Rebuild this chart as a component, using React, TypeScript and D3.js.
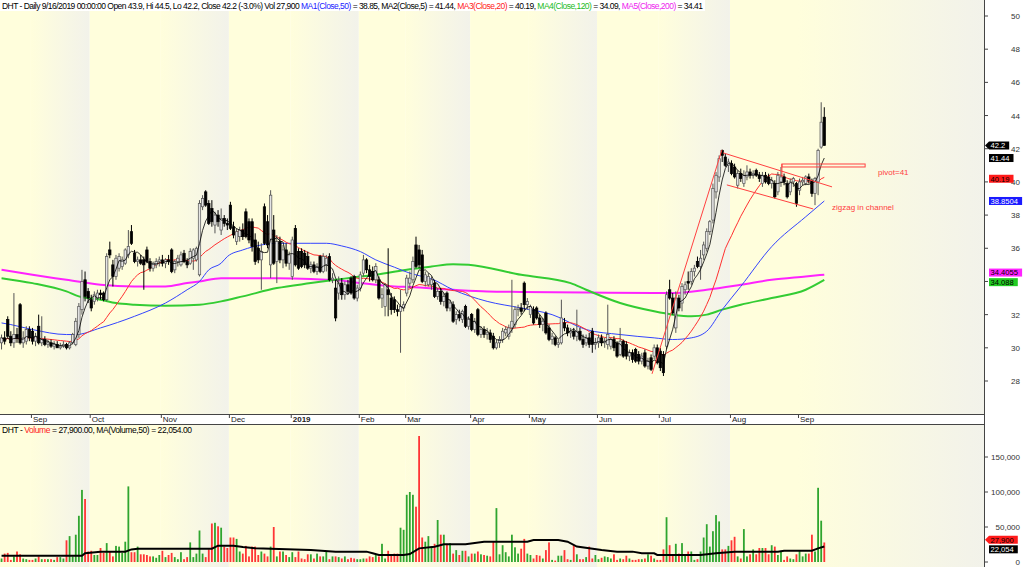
import React from 'react';
import * as d3 from 'd3';

const W = 1024;
const H = 567;
const PLOT_R = 984;
const STEP = 3.093;
const FONT = 'Liberation Sans, Arial, sans-serif';

// daily bars [open, high, low, close], one list per month
const aug18 = [[30.3,30.8,29.9,30.6],[30.6,31.0,30.2,30.4],[31.7,31.9,30.6,30.7],[30.7,31.0,30.1,30.3],[30.3,33.3,30.0,30.8],[30.8,31.2,30.3,30.6],[32.6,32.7,30.2,30.3],[30.3,31.0,30.0,30.6],[30.4,31.3,30.2,31.1],[31.1,31.3,30.4,30.6]];
const sep18 = [[31.0,31.2,30.2,30.4],[30.4,30.9,30.1,30.7],[31.3,32.0,30.2,30.3],[30.3,31.9,30.1,30.5],[30.5,30.7,30.1,30.2],[30.2,30.5,30.0,30.3],[30.3,30.5,30.0,30.1],[30.1,30.4,29.9,30.2],[30.2,30.4,30.0,30.0],[30.0,30.3,29.9,30.1],[30.1,30.4,30.0,30.2],[30.2,30.3,29.9,30.0],[30.0,30.4,29.9,30.3],[30.3,30.9,30.2,30.8],[30.2,31.8,30.1,31.6],[30.8,32.7,30.6,32.5],[32.3,34.7,32.0,34.0],[34.1,34.6,32.8,33.1],[33.4,33.6,32.7,33.0]];
const oct18 = [[32.9,33.2,32.2,32.4],[32.8,33.4,32.6,33.2],[33.0,33.5,32.8,33.3],[33.3,33.5,32.9,33.2],[33.3,33.4,32.8,32.9],[32.9,35.7,32.8,35.5],[35.9,36.4,35.4,35.6],[35.0,35.3,33.7,34.3],[34.3,35.6,34.1,35.4],[34.8,35.7,34.6,35.5],[34.9,35.5,34.7,35.3],[35.1,36.0,35.0,35.9],[35.6,37.1,35.4,36.1],[37.0,37.4,36.2,36.3],[35.7,35.9,35.1,35.2],[35.2,35.5,34.9,35.3],[35.3,35.6,35.0,35.1],[35.3,35.5,33.5,35.0],[35.9,36.1,35.1,35.2],[35.2,35.4,34.6,34.8],[34.8,35.2,34.6,35.1],[35.0,35.4,34.8,35.2],[35.2,35.5,34.9,35.3]];
const nov18 = [[35.3,35.6,34.9,35.1],[35.1,35.4,34.8,35.3],[35.3,35.6,35.0,35.2],[35.9,36.0,34.5,34.6],[34.7,35.3,34.5,35.2],[35.2,35.6,34.9,35.4],[35.0,35.8,34.9,35.6],[35.7,35.9,35.1,35.2],[35.2,35.4,34.8,35.0],[35.1,36.0,35.0,35.8],[35.4,36.0,34.7,35.9],[35.3,36.1,35.2,36.0],[34.4,38.9,34.3,38.7],[38.5,39.2,38.3,39.0],[39.4,39.5,38.5,38.6],[38.7,38.9,37.4,37.5],[38.4,38.9,37.3,37.6],[37.4,38.2,36.9,38.0],[38.0,38.3,37.3,37.6],[37.1,38.4,36.8,37.8],[37.8,38.0,37.3,37.5],[37.5,37.8,37.1,37.4]];
const dec18 = [[38.6,38.8,37.1,37.2],[37.3,37.6,36.6,36.8],[36.4,37.2,36.2,37.0],[36.7,37.3,36.4,37.1],[37.1,37.5,36.5,36.7],[38.2,38.4,36.6,36.7],[37.6,37.8,36.3,36.5],[37.6,37.8,35.8,36.1],[36.5,36.9,35.0,35.2],[36.0,36.4,35.1,35.3],[35.3,36.3,33.5,35.8],[38.5,38.7,36.2,36.3],[37.6,38.0,36.0,36.2],[35.0,39.5,34.2,39.2],[37.1,38.0,35.0,35.1],[35.2,36.8,33.9,36.4],[36.4,36.7,35.1,35.3],[35.3,36.2,34.8,35.9],[35.9,36.3,34.9,35.1],[35.1,35.8,34.7,35.6]];
const jan19 = [[34.3,36.7,34.1,36.5],[37.2,37.4,34.9,35.0],[35.8,36.0,34.7,34.8],[35.8,36.0,34.8,34.9],[35.7,35.9,34.8,35.0],[35.5,35.8,34.7,34.8],[34.8,35.2,34.5,35.0],[35.0,35.2,34.5,34.6],[34.6,35.1,34.4,34.9],[35.5,35.6,34.5,34.6],[34.6,35.7,34.5,35.5],[35.0,35.6,34.6,35.4],[35.5,35.7,34.0,34.1],[34.1,34.5,33.9,34.2],[33.6,34.1,31.6,31.8],[33.3,34.3,32.9,33.9],[33.9,34.2,32.9,33.2],[33.2,34.0,32.9,33.8],[33.8,34.1,33.2,33.4],[34.2,34.3,33.2,33.3],[34.3,34.4,32.9,33.0],[33.0,33.8,32.8,33.6]];
const feb19 = [[33.6,34.6,33.4,34.4],[34.5,35.6,34.3,35.3],[35.3,35.4,34.5,34.7],[34.7,35.0,34.0,34.3],[34.6,34.9,34.0,34.1],[34.1,35.1,33.9,34.9],[34.1,34.3,32.9,33.0],[33.0,33.6,32.4,33.2],[32.5,33.9,31.9,33.8],[33.5,36.0,31.9,33.2],[33.0,33.3,32.0,32.3],[32.9,33.1,32.1,32.3],[32.3,32.6,31.9,32.2],[32.2,33.5,29.7,32.5],[32.4,32.8,32.2,32.6]];
const mar19 = [[33.3,34.4,33.1,34.2],[33.9,34.6,33.6,34.2],[34.1,35.5,33.9,35.2],[36.2,36.7,34.8,34.9],[35.9,36.2,34.8,35.0],[35.6,35.9,33.9,34.0],[34.0,34.6,33.7,34.4],[33.8,34.5,33.7,34.3],[33.8,34.3,33.5,34.1],[33.9,34.1,33.0,33.1],[33.1,33.6,32.9,33.4],[33.4,33.6,32.6,32.8],[32.8,33.3,32.5,33.1],[33.3,33.4,32.2,32.4],[32.4,32.9,32.2,32.7],[32.6,32.8,31.5,31.6],[31.7,32.2,31.4,32.0],[32.0,32.3,31.6,31.8],[31.7,32.3,31.5,32.2],[32.5,32.6,31.2,31.3],[31.3,31.9,31.1,31.7]];
const apr19 = [[32.0,32.1,31.0,31.1],[31.1,31.8,30.9,31.6],[32.3,32.4,30.7,30.8],[30.8,31.3,30.6,31.1],[31.1,31.3,30.6,30.8],[30.8,31.2,30.5,30.9],[30.9,31.1,30.3,30.5],[30.7,30.9,29.9,30.0],[30.0,30.5,29.9,30.3],[30.3,30.7,30.0,30.5],[30.5,31.2,30.3,31.0],[30.9,31.3,30.7,31.1],[30.7,31.4,30.5,31.2],[31.2,34.1,30.9,31.6],[31.4,32.5,31.2,32.3],[32.3,32.6,31.9,32.4],[32.4,32.7,32.0,32.2],[33.9,34.0,32.2,32.6],[32.6,33.0,32.3,32.8]];
const may19 = [[32.0,32.6,31.8,32.5],[32.3,32.5,31.4,31.5],[32.4,32.5,31.7,31.8],[31.8,32.0,31.2,31.4],[31.4,31.8,31.0,31.6],[32.1,32.2,30.8,30.9],[31.2,31.4,30.4,30.5],[30.5,30.9,30.2,30.7],[30.6,30.7,30.1,30.2],[30.2,30.5,30.0,30.3],[30.3,32.9,30.2,31.8],[31.5,31.8,31.0,31.2],[31.2,31.4,30.7,30.9],[30.9,31.2,30.6,31.0],[31.0,31.2,30.5,30.7],[30.7,32.3,30.4,31.0],[31.0,31.2,30.4,30.5],[30.5,30.8,30.0,30.2],[30.3,30.8,30.1,30.6],[30.6,30.9,30.0,30.2],[31.0,31.2,29.7,30.2],[30.2,30.6,29.9,30.3]];
const jun19 = [[30.3,30.8,30.0,30.6],[30.6,30.8,30.1,30.3],[30.3,30.6,30.0,30.4],[30.2,32.6,29.9,30.8],[30.1,30.6,29.9,30.5],[30.5,30.7,29.8,30.0],[30.3,30.4,29.4,29.5],[29.6,31.2,29.5,30.4],[30.4,30.5,29.4,29.5],[30.2,30.4,29.3,29.5],[29.5,29.9,29.2,29.7],[29.7,29.9,29.1,29.3],[29.9,30.0,29.1,29.2],[29.6,29.8,29.0,29.2],[29.2,29.7,29.0,29.5],[29.7,29.9,28.8,28.9],[28.9,29.4,28.7,29.2],[29.4,29.6,28.6,28.7],[29.5,30.2,29.3,30.0],[30.0,30.2,29.0,29.1]];
const jul19 = [[29.8,30.0,28.6,28.8],[29.6,29.8,28.3,28.5],[30.1,33.4,29.9,33.2],[33.5,34.1,32.9,33.0],[33.0,33.3,32.0,32.1],[31.2,33.4,30.9,33.0],[33.0,33.2,32.2,32.4],[32.7,33.9,32.2,33.7],[33.5,34.0,33.2,33.8],[34.0,34.6,33.5,33.9],[34.0,34.8,33.8,34.6],[34.6,35.0,34.3,34.8],[35.2,35.5,34.8,34.9],[34.9,35.9,34.1,35.4],[35.6,36.4,35.3,36.2],[36.0,37.2,35.8,37.0],[37.0,37.7,36.8,37.6],[37.7,39.9,37.5,39.6],[39.4,40.6,39.0,40.4],[40.3,41.6,40.0,41.4],[41.9,41.95,41.2,41.6],[41.5,41.7,40.9,41.0],[41.0,41.4,40.6,41.2]];
const aug19 = [[41.1,41.3,40.4,40.5],[40.9,41.1,40.2,40.3],[39.8,40.7,39.6,40.5],[40.5,40.8,40.0,40.2],[39.9,40.7,39.7,40.4],[40.3,41.0,40.1,40.6],[40.6,40.8,40.2,40.4],[40.4,40.7,40.2,40.5],[40.7,40.8,40.3,40.4],[40.4,40.6,40.0,40.2],[39.9,40.6,39.7,40.4],[40.4,40.6,39.9,40.0],[40.3,40.5,39.8,39.9],[39.9,40.3,39.6,40.1],[39.9,40.1,39.0,39.1],[39.4,40.6,39.2,40.4],[40.0,40.9,39.7,40.3],[40.3,40.5,39.8,40.0],[39.9,40.1,39.0,39.1],[39.4,40.2,39.2,40.0],[40.0,40.3,39.7,40.2],[39.9,40.0,38.5,38.7]];
const sep19 = [[39.5,40.2,39.2,40.0],[40.0,40.3,39.8,40.1],[39.9,40.4,39.8,40.3],[40.3,40.5,39.9,40.1],[40.1,40.2,39.1,39.3],[39.3,40.3,38.6,40.2],[40.0,42.0,39.2,41.9],[42.1,44.8,42.0,43.6],[43.9,44.5,42.2,42.2]];

const bars = [...aug18, ...sep18, ...oct18, ...nov18, ...dec18, ...jan19, ...feb19, ...mar19, ...apr19, ...may19, ...jun19, ...jul19, ...aug19, ...sep19];

// volume in thousands, same order as bars
const volumeK = [
  5,12,13,3,8,15,11,5,4,3,
  3,5,8,4,4,4,4,3,7,7,5,31,37,8,39,66,103,90,15,
  16,10,10,20,13,27,15,8,23,22,13,29,108,14,14,22,11,11,10,8,8,6,10,
  16,7,10,13,7,4,14,4,7,28,7,12,45,12,7,18,55,56,51,49,22,20,
  35,35,33,15,12,23,8,22,22,10,15,12,8,22,50,8,15,15,10,7,
  14,7,15,5,4,11,11,5,12,8,8,15,4,8,8,7,5,8,4,6,5,4,
  4,5,5,8,7,10,8,26,5,16,11,12,12,49,46,
  96,100,96,79,180,35,29,37,22,26,60,39,39,26,27,12,17,10,16,16,8,
  12,12,15,11,10,9,8,30,77,11,24,14,8,39,21,12,19,33,12,
  10,5,10,9,5,17,28,3,2,9,9,17,4,3,24,11,4,4,7,22,5,10,
  4,6,8,7,5,11,3,5,4,9,5,3,3,4,4,5,11,9,5,3,
  3,18,64,24,11,26,12,27,11,15,15,3,4,15,35,54,22,44,67,58,18,18,23,
  31,36,8,5,47,8,11,18,11,20,20,20,11,24,22,10,16,3,8,5,4,11,
  16,8,12,12,39,15,106,59,27.9,
];

// long moving averages: [bar index, value]
const ma50Pts = [[0,31.5],[3,31.4],[10,31.1],[21,30.8],[24,30.8],[32,31.2],[43,31.9],[53,32.7],[60,33.5],[64,34.0],[67,34.7],[71,35.1],[73,35.5],[78,35.9],[84,36.2],[89,36.3],[94,36.3],[100,36.3],[105,36.3],[110,36.14],[116,35.8],[121,35.3],[127,34.86],[132,34.5],[135,34.35],[139,34.15],[146,33.5],[157,32.8],[168,32.4],[178,32.0],[189,31.1],[200,30.8],[211,30.6],[217,30.5],[223,30.6],[228,31.0],[233,32.3],[239,33.7],[249,36.1],[260,37.9],[266,38.85]];
const ma120Pts = [[0,34.2],[10,33.9],[21,33.4],[25,33.1],[32,32.9],[37,32.7],[43,32.6],[53,32.53],[64,32.6],[71,32.8],[78,33.1],[89,33.6],[100,33.9],[110,34.15],[116,34.3],[121,34.4],[132,34.74],[139,34.9],[146,35.04],[151,35.0],[168,34.4],[184,33.9],[189,33.5],[200,32.7],[211,32.2],[217,32.0],[223,31.9],[228,32.0],[233,32.3],[239,32.6],[249,33.0],[260,33.5],[266,34.09]];
const ma200Pts = [[0,34.7],[10,34.4],[21,34.1],[32,33.8],[43,33.7],[53,33.7],[60,33.9],[64,34.0],[71,34.2],[78,34.2],[89,34.2],[100,34.15],[105,34.1],[110,34.05],[116,33.9],[121,33.8],[127,33.7],[132,33.66],[146,33.5],[157,33.4],[168,33.37],[189,33.33],[211,33.3],[217,33.3],[228,33.5],[239,33.8],[249,34.1],[260,34.3],[266,34.41]];
const volMaPts = [[0,9],[26,9],[27,12.4],[32,14.8],[40,14.8],[42,18],[44,19],[68,19],[70,23.3],[75,23.3],[78,21.4],[82,19.5],[100,17],[108,14.8],[118,14.8],[120,12.4],[122,10],[130,10],[132,11.4],[135,19.5],[140,21.9],[143,25.2],[150,25.2],[156,29],[170,29],[172,31.4],[180,31.4],[183,29],[186,22],[194,17],[199,14.8],[204,14.8],[207,12.4],[211,12.4],[212,10],[226,10],[231,12.4],[237,14.8],[251,14.8],[253,16.2],[262,16.2],[264,19.5],[266,22.05]];

const monthStarts = [10, 29, 52, 74, 94, 116, 131, 152, 171, 193, 213, 236, 258];
const monthNames = ['Sep', 'Oct', 'Nov', 'Dec', '2019', 'Feb', 'Mar', 'Apr', 'May', 'Jun', 'Jul', 'Aug', 'Sep'];
const priceTicks = [28, 30, 32, 34, 36, 38, 40, 42, 44, 46, 48, 50];
const volTicks = [0, 50000, 100000, 150000];

// hand-drawn annotations in [bar index, price]
const trendLines = [[210.3, 28.43, 232.9, 41.93], [233.3, 41.75, 268.5, 39.7], [234.5, 39.82, 262.4, 38.37]];
const pivot = { i1: 252.3, i2: 279.2, top: 41.08, bottom: 40.9, stem: 40.3 };

const priceTags = [
  { v: 42.2, text: '42.2', bg: '#000', fg: '#fff', arrow: true },
  { v: 41.44, text: '41.44', bg: '#000', fg: '#fff' },
  { v: 40.19, text: '40.19', bg: '#ff1a1a', fg: '#000' },
  { v: 38.8504, text: '38.8504', bg: '#1a1aff', fg: '#fff' },
  { v: 34.4055, text: '34.4055', bg: '#ff22ff', fg: '#000' },
  { v: 34.088, text: '34.088', bg: '#22cc22', fg: '#000' },
];
const volTags = [
  { v: 27900, text: '27,900', bg: '#ff1a1a', fg: '#000', arrow: true },
  { v: 22054, text: '22,054', bg: '#000', fg: '#fff' },
];

const sma = (vals: number[], n: number) =>
  vals.map((_, i) => d3.mean(vals.slice(Math.max(0, i - n + 1), i + 1)) as number);

const spread = (ys: number[], gap: number) => {
  const out = ys.slice();
  for (let k = 1; k < out.length; k++) {
    if (out[k] - out[k - 1] < gap) {
      const mid = (out[k] + out[k - 1]) / 2;
      out[k - 1] = mid - gap / 2;
      out[k] = mid + gap / 2;
    }
  }
  return out;
};

const tagWidth = (s: string) => s.length * 4.3 + 3;
const TAG_X = 989;

const Tag = ({ y, t }: { y: number; t: any }) => {
  const w = tagWidth(t.text);
  const h = 8;
  return (
    <g>
      {t.arrow
        ? <polygon points={`985,${y} ${TAG_X},${y - h / 2} ${TAG_X + w},${y - h / 2} ${TAG_X + w},${y + h / 2} ${TAG_X},${y + h / 2}`} fill={t.bg} />
        : <rect x={TAG_X} y={y - h / 2} width={w} height={h} fill={t.bg} />}
      <text x={TAG_X + 1.5} y={y + 2.8} fontSize={7.6} fill={t.fg} fontFamily={FONT}>{t.text}</text>
    </g>
  );
};

export default function App() {
  const x = d3.scaleLinear().domain([0, 320]).range([0, 320 * STEP]);
  const cx = (i: number) => x(i + 0.5);
  const y = d3.scaleLinear().domain([28, 50]).range([381, 16]);
  const yv = d3.scaleLinear().domain([0, 150000]).range([562, 457]);

  const closes = bars.map(b => b[3]);
  const ma5 = sma(closes, 5);
  const ma20 = sma(closes, 20);

  const lin = d3.line<number[]>().x(d => cx(d[0])).y(d => y(d[1]));
  const smooth = d3.line<number[]>().x(d => cx(d[0])).y(d => y(d[1])).curve(d3.curveMonotoneX);
  const volLine = d3.line<number[]>().x(d => cx(d[0])).y(d => yv(d[1] * 1000));

  const edges = [0, ...monthStarts.map(m => x(m)), PLOT_R];
  const bw = 2.4;

  const pTagY = spread(priceTags.map(t => y(t.v)), 9.6);
  const vTagY = spread(volTags.map(t => yv(t.v)), 9.6);

  // a tick label hidden behind a wide value tag is left out, as in the original
  const hidden = (ty: number) =>
    priceTags.some((t, k) => Math.abs(pTagY[k] - ty) < 5 && TAG_X + tagWidth(t.text) > 1015);

  return (
    <svg width={W} height={H} style={{ position: 'absolute', left: 0, top: 0, background: '#fff' }} fontFamily={FONT}>
      <defs>
        <clipPath id="pc"><rect x={0} y={0} width={PLOT_R} height={413} /></clipPath>
        <clipPath id="vc"><rect x={0} y={425} width={PLOT_R} height={142} /></clipPath>
        <linearGradient id="fade" x1="0" x2="1" y1="0" y2="0">
          <stop offset="0" stopColor="#fffedc" />
          <stop offset="1" stopColor="#f2f2ea" />
        </linearGradient>
      </defs>

      {/* month bands: first month of each pair plain yellow, second fades to grey */}
      {edges.slice(0, -1).map((e, k) => (
        <rect key={k} x={e} y={0} width={edges[k + 1] - e} height={H} fill={k % 2 ? 'url(#fade)' : '#fffedc'} />
      ))}
      <rect x={PLOT_R} y={0} width={W - PLOT_R} height={H} fill="#fff" />

      {/* price panel */}
      <g clipPath="url(#pc)">
        <path d={smooth(ma200Pts) || ''} fill="none" stroke="#ff22ff" strokeWidth={2} />
        <path d={smooth(ma120Pts) || ''} fill="none" stroke="#33cc33" strokeWidth={2} />
        <path d={smooth(ma50Pts) || ''} fill="none" stroke="#3344ff" strokeWidth={1} />
        <path d={lin(ma20.map((v, i) => [i, v])) || ''} fill="none" stroke="#ff3030" strokeWidth={1} />
        {bars.map((b, i) => {
          const [o, h, l, c] = b;
          const up = c >= o;
          const top = y(Math.max(o, c));
          const bh = Math.max(1, y(Math.min(o, c)) - top);
          return (
            <g key={i}>
              <line x1={cx(i)} x2={cx(i)} y1={y(h)} y2={y(l)} stroke={up ? '#555' : '#000'} strokeWidth={1} />
              <rect x={cx(i) - bw / 2} y={top} width={bw} height={bh}
                fill={up ? '#e4e4e4' : '#000'} stroke={up ? '#555' : '#000'} strokeWidth={0.7} />
            </g>
          );
        })}
        <path d={lin(ma5.map((v, i) => [i, v])) || ''} fill="none" stroke="#000" strokeWidth={0.8} />

        {trendLines.map((t, k) => (
          <line key={k} x1={cx(t[0])} y1={y(t[1])} x2={cx(t[2])} y2={y(t[3])} stroke="#ff4040" strokeWidth={1} />
        ))}
        <rect x={cx(pivot.i1)} y={y(pivot.top)} width={cx(pivot.i2) - cx(pivot.i1)} height={y(pivot.bottom) - y(pivot.top)}
          fill="none" stroke="#ff4040" strokeWidth={1} />
        <line x1={cx(pivot.i1)} x2={cx(pivot.i1)} y1={y(pivot.top)} y2={y(pivot.stem)} stroke="#ff4040" strokeWidth={1} />
        <text x={cx(283.4)} y={y(40.42)} fontSize={8} fill="#ff4040">pivot=41</text>
        <text x={cx(268.5)} y={y(38.31)} fontSize={8} fill="#ff4040">zigzag in channel</text>
      </g>

      {/* header */}
      <rect x={0} y={0} width={705} height={11} fill="#fff" />
      <text x={2} y={9} fontSize={8.5} fill="#000" textLength={701} lengthAdjust="spacing">
        <tspan>DHT - Daily 9/16/2019 00:00:00 Open 43.9, Hi 44.5, Lo 42.2, Close 42.2 (-3.0%) Vol 27,900 </tspan>
        <tspan fill="#2020ff">MA1(Close,50)</tspan>
        <tspan> = 38.85, MA2(Close,5) = 41.44, </tspan>
        <tspan fill="#ff2020">MA3(Close,20)</tspan>
        <tspan> = 40.19, </tspan>
        <tspan fill="#22bb22">MA4(Close,120)</tspan>
        <tspan> = 34.09, </tspan>
        <tspan fill="#ee22ee">MA5(Close,200)</tspan>
        <tspan> = 34.41</tspan>
      </text>

      {/* date strip */}
      <rect x={0} y={414} width={PLOT_R} height={11} fill="#fff" />
      <line x1={0} x2={PLOT_R} y1={414.5} y2={414.5} stroke="#444" />
      <line x1={0} x2={PLOT_R} y1={424.5} y2={424.5} stroke="#444" />
      {monthStarts.map((m, k) => (
        <g key={k}>
          <line x1={x(m) + 0.5} x2={x(m) + 0.5} y1={414} y2={418} stroke="#444" />
          <text x={x(m) + 2} y={422} fontSize={8} fontWeight={monthNames[k] === '2019' ? 'bold' : 'normal'} fill="#222">{monthNames[k]}</text>
        </g>
      ))}

      {/* volume panel */}
      <g clipPath="url(#vc)">
        {volumeK.map((v, i) => {
          const b = bars[i];
          return (
            <rect key={i} x={cx(i) - 0.9} y={yv(v * 1000)} width={1.8} height={yv(0) - yv(v * 1000)}
              fill={b[3] >= b[0] ? '#2fa52f' : '#ff3535'} />
          );
        })}
        <path d={volLine(volMaPts) || ''} fill="none" stroke="#000" strokeWidth={2} />
      </g>
      <text x={2} y={433} fontSize={8.5} fill="#000" textLength={190} lengthAdjust="spacing">
        <tspan>DHT - </tspan><tspan fill="#ff2020">Volume</tspan><tspan> = 27,900.00, MA(Volume,50) = 22,054.00</tspan>
      </text>

      {/* right axis */}
      <line x1={PLOT_R + 0.5} x2={PLOT_R + 0.5} y1={0} y2={H} stroke="#444" />
      {priceTicks.map(t => (
        <g key={t}>
          <line x1={PLOT_R} x2={PLOT_R + 4} y1={y(t)} y2={y(t)} stroke="#444" />
          {!hidden(y(t)) && <text x={1020} y={y(t) + 3} fontSize={8} textAnchor="end" fill="#333">{t}</text>}
        </g>
      ))}
      {volTicks.map(t => (
        <g key={t}>
          <line x1={PLOT_R} x2={PLOT_R + 4} y1={yv(t)} y2={yv(t)} stroke="#444" />
          <text x={1020} y={yv(t) + 3} fontSize={8} textAnchor="end" fill="#333">{d3.format(',')(t)}</text>
        </g>
      ))}
      {priceTags.map((t, k) => <Tag key={k} y={pTagY[k]} t={t} />)}
      {volTags.map((t, k) => <Tag key={k} y={vTagY[k]} t={t} />)}
    </svg>
  );
}
